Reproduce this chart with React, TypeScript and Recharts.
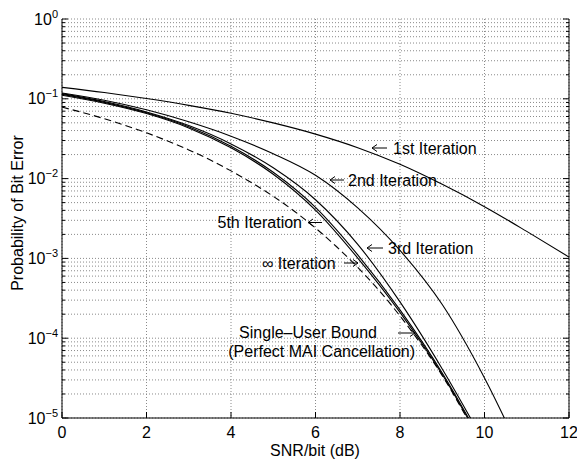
import React from 'react';
import { LineChart, Line, XAxis, YAxis, CartesianGrid } from 'recharts';

// ---- data (SNR/bit in dB, probability of bit error) ----
const snr1st = [0, 1, 2, 3, 4, 5, 6, 7, 8, 9, 10, 11, 12];
const ber1st = [0.139, 0.1197, 0.1007, 0.0828, 0.0658, 0.0499, 0.0361, 0.0244, 0.0151, 0.00847, 0.00445, 0.00218, 0.00104];

const snr2nd = [0, 1, 2, 3, 4, 5, 6, 7, 8, 9, 10, 11];
const ber2nd = [0.118, 0.0959, 0.0728, 0.0515, 0.034, 0.0205, 0.011, 0.00429, 0.00126, 0.000264, 0.0000318, 0.00000252];

const snrIter = [0, 1, 2, 3, 4, 5, 6, 7, 8, 9, 10];
const ber3rd = [0.1161, 0.0923, 0.0684, 0.0462, 0.0272, 0.01365, 0.00543, 0.0015, 0.000285, 0.0000412, 0.00000484];
const ber5th = [0.1135, 0.0902, 0.0668, 0.0447, 0.0254, 0.012, 0.00437, 0.00111, 0.000226, 0.0000367, 0.00000437];
const berInf = [0.1109, 0.0881, 0.0653, 0.0432, 0.0243, 0.01135, 0.00403, 0.00101, 0.000211, 0.0000351, 0.00000417];

const snrSU = [0, 0.5, 1, 1.5, 2, 2.5, 3, 3.5, 4, 4.5, 5, 5.5, 6, 6.5, 7, 7.5, 8, 8.5, 9, 9.5, 10];
const berSU = [0.0786, 0.0671, 0.0563, 0.0464, 0.0375, 0.0296, 0.0229, 0.0172, 0.0125, 0.0088, 0.006, 0.0039, 0.0024, 0.0014, 0.00077, 0.0004, 0.00019, 0.000084, 0.000034, 0.000012, 0.0000039];

const xTicks = [0, 2, 4, 6, 8, 10, 12];
const xTickLabels = ['0', '2', '4', '6', '8', '10', '12'];
const yMajor = [1e-5, 1e-4, 1e-3, 1e-2, 1e-1, 1];
const yExpLabels = ['\u22125', '\u22124', '\u22123', '\u22122', '\u22121', '0'];
const minorMultipliers = [2, 3, 4, 5, 6, 7, 8, 9];

const yTicks: number[] = [];
yMajor.forEach((m, i) => {
  yTicks.push(m);
  if (i < yMajor.length - 1) minorMultipliers.forEach((k) => yTicks.push(k * m));
});

const toRows = (xs: number[], ys: number[]) => xs.map((x, i) => ({ snr: x, ber: ys[i] }));

const FONT = '"Liberation Sans", Arial, Helvetica, sans-serif';

const majorIndex = (v: number) =>
  yMajor.findIndex((m) => Math.abs(Math.log10(m) - Math.log10(v)) < 1e-6);

const LeftTick = (props: any) => {
  const { x, y, payload } = props;
  const idx = majorIndex(payload.value);
  const major = idx >= 0;
  return (
    <g>
      <line x1={x} x2={x + (major ? 6 : 3)} y1={y} y2={y} stroke="#000" strokeWidth={1} />
      {major && (
        <text x={x - 4} y={y + 5.5} textAnchor="end" fontSize={16} fill="#000" fontFamily={FONT}>
          <tspan>10</tspan>
          <tspan dy={-7} fontSize={11}>{yExpLabels[idx]}</tspan>
        </text>
      )}
    </g>
  );
};

const RightTick = (props: any) => {
  const { x, y, payload } = props;
  const major = majorIndex(payload.value) >= 0;
  return <line x1={x} x2={x - (major ? 6 : 3)} y1={y} y2={y} stroke="#000" strokeWidth={1} />;
};

const BottomTick = (props: any) => {
  const { x, y, payload } = props;
  const idx = xTicks.indexOf(payload.value);
  return (
    <g>
      <line x1={x} x2={x} y1={y} y2={y - 6} stroke="#000" strokeWidth={1} />
      <text x={x} y={y + 20} textAnchor="middle" fontSize={16} fill="#000" fontFamily={FONT}>
        {idx >= 0 ? xTickLabels[idx] : ''}
      </text>
    </g>
  );
};

const TopTick = (props: any) => {
  const { x, y } = props;
  return <line x1={x} x2={x} y1={y} y2={y + 6} stroke="#000" strokeWidth={1} />;
};

// thin annotation arrow, head at `head`, tail at `tail`
const Arrow = ({ head, tail, y }: { head: number; tail: number; y: number }) => {
  const d = tail > head ? 1 : -1;
  return (
    <g stroke="#000" strokeWidth={1} fill="none">
      <line x1={tail} x2={head} y1={y} y2={y} />
      <path d={`M ${head + d * 5} ${y - 3.5} L ${head} ${y} L ${head + d * 5} ${y + 3.5}`} />
    </g>
  );
};

const lineProps = {
  dataKey: 'ber',
  type: 'monotone' as const,
  dot: false,
  stroke: '#000',
  strokeWidth: 1.1,
  isAnimationActive: false,
  activeDot: false,
};

export default function App() {
  return (
    <div style={{ position: 'absolute', left: 0, top: 0, width: 577, height: 462, background: '#fff' }}>
      <LineChart width={577} height={462} margin={{ top: 19, right: 0, bottom: 0, left: 0 }}>
        <CartesianGrid stroke="#8a8a8a" strokeDasharray="1 2" strokeWidth={1} />
        <XAxis
          dataKey="snr"
          type="number"
          domain={[0, 12]}
          ticks={xTicks}
          interval={0}
          height={44}
          tickSize={0}
          tickMargin={0}
          tickLine={false}
          axisLine={{ stroke: '#000' }}
          tick={<BottomTick />}
          allowDataOverflow
        />
        <XAxis
          xAxisId="t"
          orientation="top"
          dataKey="snr"
          type="number"
          domain={[0, 12]}
          ticks={xTicks}
          interval={0}
          height={0}
          tickSize={0}
          tickMargin={0}
          tickLine={false}
          axisLine={{ stroke: '#000' }}
          tick={<TopTick />}
          allowDataOverflow
        />
        <YAxis
          type="number"
          scale="log"
          domain={[1e-5, 1]}
          ticks={yTicks}
          interval={0}
          width={62}
          tickSize={0}
          tickMargin={0}
          tickLine={false}
          axisLine={{ stroke: '#000' }}
          tick={<LeftTick />}
          allowDataOverflow
        />
        <YAxis
          yAxisId="r"
          orientation="right"
          type="number"
          scale="log"
          domain={[1e-5, 1]}
          ticks={yTicks}
          interval={0}
          width={8}
          tickSize={0}
          tickMargin={0}
          tickLine={false}
          axisLine={{ stroke: '#000' }}
          tick={<RightTick />}
          allowDataOverflow
        />
        <Line {...lineProps} data={toRows(snr1st, ber1st)} name="1st Iteration" />
        <Line {...lineProps} data={toRows(snr2nd, ber2nd)} name="2nd Iteration" />
        <Line {...lineProps} data={toRows(snrIter, ber3rd)} name="3rd Iteration" />
        <Line {...lineProps} data={toRows(snrIter, ber5th)} name="5th Iteration" />
        <Line {...lineProps} data={toRows(snrIter, berInf)} name="∞ Iteration" />
        <Line {...lineProps} data={toRows(snrSU, berSU)} strokeDasharray="7 4" name="Single-User Bound" />
      </LineChart>
      <svg
        width={577}
        height={462}
        style={{ position: 'absolute', left: 0, top: 0, pointerEvents: 'none' }}
        fontFamily={FONT}
        fontSize={16}
        fill="#000"
      >
        <text x={315} y={456} textAnchor="middle">SNR/bit (dB)</text>
        <text x={0} y={0} textAnchor="middle" transform="translate(23 213) rotate(-90)">Probability of Bit Error</text>

        <Arrow head={372} tail={387} y={148} />
        <text x={393} y={153.5}>1st Iteration</text>

        <Arrow head={330} tail={344} y={180} />
        <text x={348} y={185.5}>2nd Iteration</text>

        <Arrow head={367} tail={383} y={248} />
        <text x={388} y={253.5}>3rd Iteration</text>

        <text x={302} y={228} textAnchor="end">5th Iteration</text>
        <Arrow head={308} tail={322} y={222.5} />

        <text x={262} y={268.5}>{'\u221E'} Iteration</text>
        <Arrow head={358} tail={344} y={263} />

        <text x={377} y={338} textAnchor="end">Single{'\u2013'}User Bound</text>
        <Arrow head={415} tail={398} y={333} />
        <text x={415} y={357} textAnchor="end">(Perfect MAI Cancellation)</text>
      </svg>
    </div>
  );
}
